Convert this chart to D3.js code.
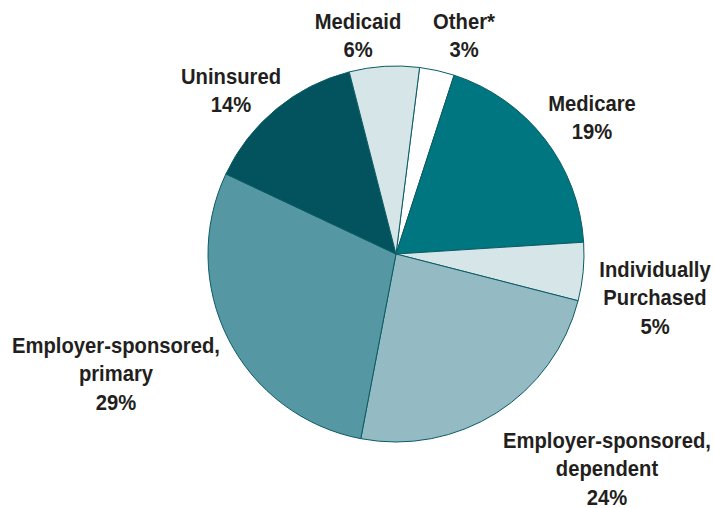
<!DOCTYPE html>
<html>
<head>
<meta charset="utf-8">
<script src="https://cdn.jsdelivr.net/npm/d3@7"></script>
<style>
  html, body { margin: 0; padding: 0; background: #ffffff; }
  svg { display: block; }
  .lbl { font-family: "Liberation Sans", Arial, sans-serif; font-weight: bold; font-size: 22px; fill: #231f20; }
</style>
</head>
<body>
<svg id="chart" width="714" height="508"></svg>
<script>
// ---- data ----
const categories = ["Other*", "Medicare", "Individually Purchased", "Employer-sponsored, dependent", "Employer-sponsored, primary", "Uninsured", "Medicaid"];
const values = [3, 19, 5, 24, 29, 14, 6];
const labelLines = [
  ["Other*"],
  ["Medicare"],
  ["Individually", "Purchased"],
  ["Employer-sponsored,", "dependent"],
  ["Employer-sponsored,", "primary"],
  ["Uninsured"],
  ["Medicaid"]
];
const colors = ["#ffffff", "#007680", "#d5e5e8", "#94bac3", "#5597a2", "#02535d", "#d5e5e8"];

// ---- layout ----
const width = 714, height = 508;
const cx = 396, cy = 254, radius = 188;
const startDeg = 7.2;
// label anchor (center x, first baseline y)
const labelPos = [
  [464, 29], [592, 111], [655, 277], [607, 448], [116, 353], [231, 84], [358, 29]
];
const lineH = 28.5;
const condense = 0.92;

const svg = d3.select("#chart");
const g = svg.append("g").attr("transform", `translate(${cx},${cy})`);

const start = startDeg * Math.PI / 180;
const pie = d3.pie().sort(null).value(d => d).startAngle(start).endAngle(start + 2 * Math.PI);
const arc = d3.arc().innerRadius(0).outerRadius(radius);

g.selectAll("path.slice")
  .data(pie(values))
  .join("path")
  .attr("class", "slice")
  .attr("d", arc)
  .attr("fill", (d, i) => colors[i])
  .attr("stroke", "#0b5c64")
  .attr("stroke-width", 1)
  .attr("stroke-linejoin", "round");

const labels = svg.selectAll("text.lbl")
  .data(categories)
  .join("text")
  .attr("class", "lbl")
  .attr("text-anchor", "middle")
  .attr("transform", (d, i) => `translate(${labelPos[i][0]},${labelPos[i][1]}) scale(${condense},1)`);

labels.each(function(d, i) {
  const t = d3.select(this);
  const lines = labelLines[i].concat([values[i] + "%"]);
  lines.forEach((ln, k) => {
    t.append("tspan")
      .attr("x", 0)
      .attr("y", k * lineH)
      .text(ln);
  });
});
</script>
</body>
</html>
